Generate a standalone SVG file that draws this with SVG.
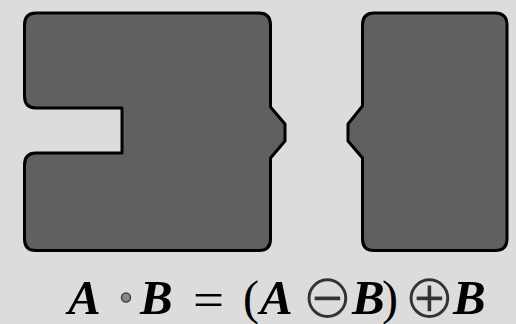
<svg xmlns="http://www.w3.org/2000/svg" width="516" height="324" viewBox="0 0 516 324">
<style>
.shape{fill:#606060;stroke:#000;stroke-width:3;stroke-linejoin:round}
.v{font-family:"Liberation Serif","Times New Roman",serif;font-weight:bold;font-style:italic;font-size:49px;fill:#000}
.o{font-family:"DejaVu Sans","Liberation Sans",sans-serif;font-size:63px;fill:#333;stroke:#dcdcdc;stroke-width:1.6}
.p{font-family:"Liberation Serif","Times New Roman",serif;font-size:48px;fill:#000}
</style>
<rect width="516" height="324" fill="#dcdcdc"/>
<g id="shapeA">
<path class="shape" d="M 35,13 H 259 Q 270.5,13 270.5,25 V 107 L 285,124 V 141 L 270.5,158 V 239 Q 270.5,250.5 259,250.5 H 36 Q 24.5,250.5 24.5,239 V 165 Q 24.5,153 36,153 H 122 V 108 H 36 Q 24.5,108 24.5,96 V 25 Q 24.5,13 36,13 Z"/>
</g>
<g id="shapeB">
<path class="shape" d="M 374,13 H 495 Q 507,13 507,25 V 239 Q 507,250.5 495,250.5 H 374 Q 362.5,250.5 362.5,239 V 158 L 348,141 V 124 L 362.5,106 V 25 Q 362.5,13 374,13 Z"/>
</g>
<g id="formula">
<text class="v" x="68" y="314">A</text>
<circle cx="126" cy="297.5" r="4.5" fill="#888" stroke="#444" stroke-width="1.5"/>
<text class="v" x="140" y="314">B</text>
<text class="p" x="193" y="316" transform="translate(193 0) scale(1.15 1) translate(-193 0)">=</text>
<text class="p" x="243" y="314">(</text>
<text class="v" x="260" y="314">A</text>
<text class="o" x="301" y="318">⊖</text>
<text class="v" x="352" y="314">B</text>
<text class="p" x="382" y="314">)</text>
<text class="o" x="403" y="318">⊕</text>
<text class="v" x="453" y="314">B</text>
</g>
</svg>
